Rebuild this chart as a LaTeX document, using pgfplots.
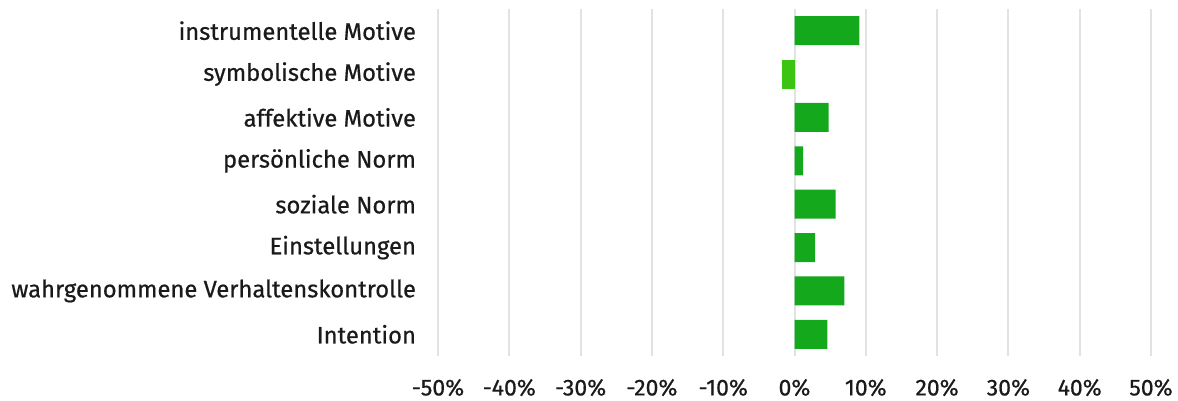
\documentclass[border=0pt]{standalone}
\usepackage{pgfplots}
\pgfplotsset{compat=1.18}
\usepackage{fontspec}
\setmainfont{Fira Sans}
\newfontfamily\lblfont{Fira Sans}[FakeBold=0.6]
\definecolor{barg}{HTML}{14A81C}
\definecolor{barl}{HTML}{3CC412}
\definecolor{gridc}{HTML}{E2E2E2}
\definecolor{txt}{HTML}{1A1A1A}
\begin{document}
\begin{tikzpicture}
\begin{axis}[name=ax, scale only axis, width=356.5pt, height=173.5pt,
  xmin=-50, xmax=50, ymin=-0.5, ymax=7.5, y dir=reverse,
  xtick={-50,-40,...,50},
  xticklabels={-50\%,-40\%,-30\%,-20\%,-10\%,0\%,10\%,20\%,30\%,40\%,50\%},
  ytick={0,...,7},
  yticklabels={instrumentelle Motive,symbolische Motive,affektive Motive,persönliche Norm,soziale Norm,Einstellungen,wahrgenommene Verhaltenskontrolle,Intention},
  axis line style={draw=none}, major tick length=0pt,
  xmajorgrids, grid style={gridc, line width=1pt},
  tick label style={text=txt},
  yticklabel style={xshift=-7.5pt, font=\lblfont\fontsize{11.9}{13}\selectfont},
  xticklabel style={yshift=-8pt, font=\lblfont\fontsize{11.5}{13}\selectfont},
  xbar, bar width=14.5pt, bar shift=0pt,
]
\addplot[fill=barg, draw=none] coordinates {(9.1,0) (4.8,2) (1.2,3) (5.75,4) (2.9,5) (7.0,6) (4.6,7)};
\addplot[fill=barl, draw=none] coordinates {(-1.8,1)};
\end{axis}
\pgfresetboundingbox
\path (ax.south west) ++(-219pt,-22.5pt) rectangle ++(589pt,200.5pt);
\end{tikzpicture}
\end{document}
